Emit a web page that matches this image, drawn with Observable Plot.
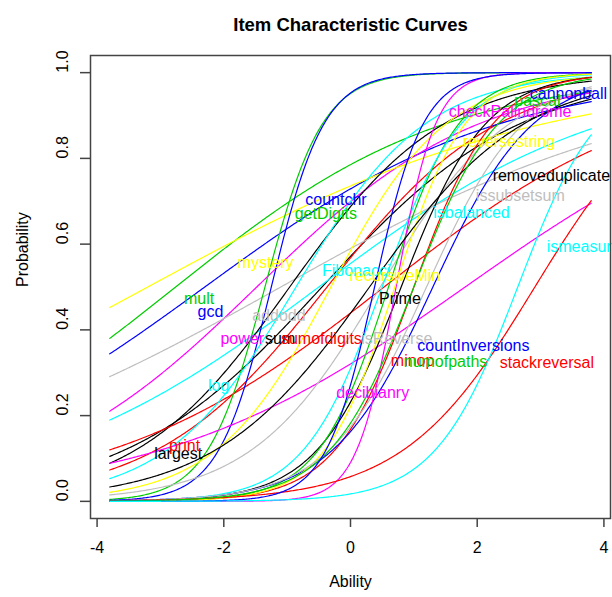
<!DOCTYPE html>
<html>
<head>
<meta charset="utf-8">
<script src="https://cdn.jsdelivr.net/npm/d3@7"></script>
<script src="https://cdn.jsdelivr.net/npm/@observablehq/plot@0.6"></script>
<style>
  html, body { margin: 0; padding: 0; background: #fff; }
  #chart { width: 612px; height: 597px; overflow: hidden; }
</style>
</head>
<body>
<div id="chart"></div>
<script>
// ---- data (2PL item parameters) ----
const itemNames = ["largest","print","mult","gcd","log","power","mystery","addodd",
  "sum","sumofdigits","getDigits","countchr","Fibonacci","decibianry","recursiveMin","isReverse",
  "Prime","minop","numofpaths","countInversions","isbalanced","checkPalindrome","reversestring","issubsetsum",
  "removeduplicate","stackreversal","pascal","cannonball","ismeasure"];
const discrimination = [0.64, 0.74, 0.47, 0.43, 0.44, 0.57, 0.32, 0.33,
  0.82, 0.46, 2.2, 2.4, 0.98, 0.415, 1.1, 0.98,
  1.5, 1.6, 1.8, 1.26, 1.6, 3.2, 1.8, 1.3,
  0.82, 0.96, 1.5, 2.6, 1.53];
const difficulty = [-0.45, -0.37, -2.76, -2.3, -0.5, -1.48, -3.2, -1.1,
  -0.96, 0.53, -1.35, -1.25, -0.86, 1.81, -0.31, 0.47,
  0.8, 1.0, 0.6, 1.3, 0.5, 0.72, 0.7, 1.2,
  0.3, 2.91, 1.0, 0.38, 2.64];
// label anchor positions (ability, probability)
const labelAbility = [-2.72, -2.62, -2.39, -2.21, -2.08, -1.71, -1.34, -1.13,
  -1.11, -0.46, -0.39, -0.23, 0.09, 0.35, 0.70, 0.73,
  0.78, 0.98, 1.50, 1.94, 1.91, 2.52, 2.50, 2.68,
  3.17, 3.10, 2.95, 3.44, 3.68];
const labelProb = [0.111, 0.13, 0.472, 0.442, 0.27, 0.379, 0.557, 0.433,
  0.379, 0.379, 0.67, 0.703, 0.537, 0.252, 0.526, 0.379,
  0.472, 0.328, 0.326, 0.363, 0.673, 0.909, 0.838, 0.712,
  0.759, 0.324, 0.934, 0.950, 0.593];
const palette = ["black","red","#00CD00","blue","cyan","magenta","yellow","#BEBEBE"];
const abilityRange = [-3.8, 3.8];
const xTicks = [-4, -2, 0, 2, 4];
const yTicks = [0, 0.2, 0.4, 0.6, 0.8, 1.0];
const yTickLabels = ["0.0", "0.2", "0.4", "0.6", "0.8", "1.0"];

// ---- build tables ----
const items = itemNames.map((name, i) => ({
  name, a: discrimination[i], b: difficulty[i],
  color: palette[i % palette.length],
  lx: labelAbility[i], ly: labelProb[i]
}));
const grid = d3.range(abilityRange[0], abilityRange[1] + 1e-9, 0.02);
const curves = items.flatMap(it => grid.map(t => ({
  name: it.name, color: it.color, theta: t,
  p: 1 / (1 + Math.exp(-it.a * (t - it.b)))
})));

const font = "'Liberation Sans', Arial, Helvetica, sans-serif";
const chart = Plot.plot({
  width: 612, height: 597,
  marginLeft: 90, marginRight: 2, marginTop: 55, marginBottom: 79,
  style: {fontFamily: font, background: "#fff", overflow: "hidden"},
  x: {domain: [-4.104, 4.104], axis: null},
  y: {domain: [-0.04, 1.04], axis: null},
  color: {type: "identity"},
  marks: [
    Plot.line(curves, {x: "theta", y: "p", z: "name", stroke: "color", strokeWidth: 1.2}),
    Plot.text(items, {x: "lx", y: "ly", text: "name", fill: "color", fontSize: 16, fontFamily: font}),
    Plot.frame({stroke: "#444", strokeWidth: 1.5}),
    Plot.axisX({ticks: xTicks, tickSize: 9, tickPadding: 14, fontSize: 16, stroke: "#444", strokeWidth: 1.5,
      tickFormat: d => String(d), fill: "#000", fontFamily: font}),
    Plot.axisY({ticks: yTicks, tickSize: 10, tickFormat: () => "", stroke: "#444", strokeWidth: 1.5}),
    Plot.text(yTicks, {y: d => d, frameAnchor: "left", dx: -28, rotate: -90,
      text: (d, i) => yTickLabels[i], fontSize: 16, fill: "#000", fontFamily: font}),
    Plot.text(["Ability"], {frameAnchor: "bottom", dy: 68, text: d => d, fontSize: 16, fill: "#000", fontFamily: font}),
    Plot.text(["Probability"], {frameAnchor: "left", dx: -68, rotate: -90, text: d => d, fontSize: 16, fill: "#000", fontFamily: font}),
    Plot.text(["Item Characteristic Curves"], {frameAnchor: "top", dy: -38, text: d => d, fontSize: 18.5,
      fontWeight: "bold", fill: "#000", fontFamily: font})
  ]
});
document.getElementById("chart").appendChild(chart);
</script>
</body>
</html>
